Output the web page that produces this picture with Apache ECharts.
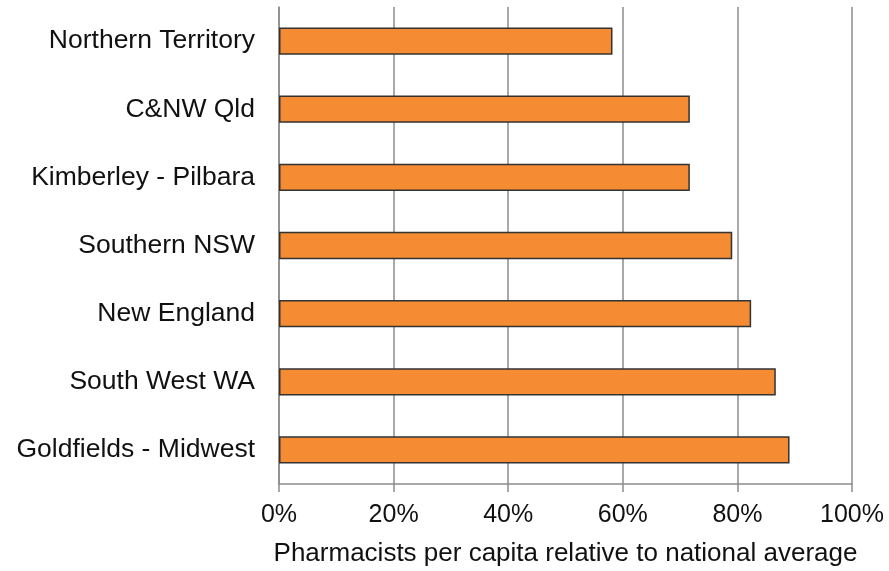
<!DOCTYPE html>
<html>
<head>
<meta charset="utf-8">
<script src="https://cdn.jsdelivr.net/npm/echarts@6/dist/echarts.min.js"></script>
<style>
  html, body { margin: 0; padding: 0; background: #fff; }
  #main { width: 889px; height: 571px; }
</style>
</head>
<body>
<div id="main"></div>
<script>
// regions, top to bottom as drawn
var regions = ['Northern Territory', 'C&NW Qld', 'Kimberley - Pilbara', 'Southern NSW', 'New England', 'South West WA', 'Goldfields - Midwest']
// pharmacists per capita, % of national average
var values = [58.2, 71.7, 71.7, 79.1, 82.4, 86.7, 89.1]
var xTicks = [0, 20, 40, 60, 80, 100]

var myChart = echarts.init(document.getElementById('main'))

var font = 'Liberation Sans, Arial, sans-serif'

var option = {
  animation: false,
  grid: { left: 279, right: 37, top: 7, bottom: 87, outerBoundsMode: 'none', containLabel: false },
  xAxis: {
    type: 'value',
    min: xTicks[0],
    max: xTicks[xTicks.length - 1],
    interval: 20,
    name: 'Pharmacists per capita relative to national average',
    nameLocation: 'middle',
    nameGap: 57,
    nameTextStyle: { fontFamily: font, fontSize: 26, color: '#111' },
    axisLine: { show: true, lineStyle: { color: '#8c8c8c', width: 1.5 } },
    axisTick: { show: true, length: 8, lineStyle: { color: '#8c8c8c', width: 1.5 } },
    axisLabel: {
      formatter: '{value}%',
      fontFamily: font,
      fontSize: 25,
      color: '#111',
      margin: 19
    },
    splitLine: { show: true, lineStyle: { color: '#8c8c8c', width: 1.5 } }
  },
  yAxis: {
    type: 'category',
    data: regions,
    inverse: true,
    axisLine: { show: true, lineStyle: { color: '#8c8c8c', width: 1.5 } },
    axisTick: { show: false },
    axisLabel: {
      fontFamily: font,
      fontSize: 26.5,
      color: '#111',
      margin: 24
    }
  },
  series: [
    {
      type: 'bar',
      data: values,
      barCategoryGap: '60%',
      itemStyle: {
        color: '#f58b33',
        borderColor: '#333333',
        borderWidth: 1.5
      }
    }
  ]
}

myChart.setOption(option)
</script>
</body>
</html>
